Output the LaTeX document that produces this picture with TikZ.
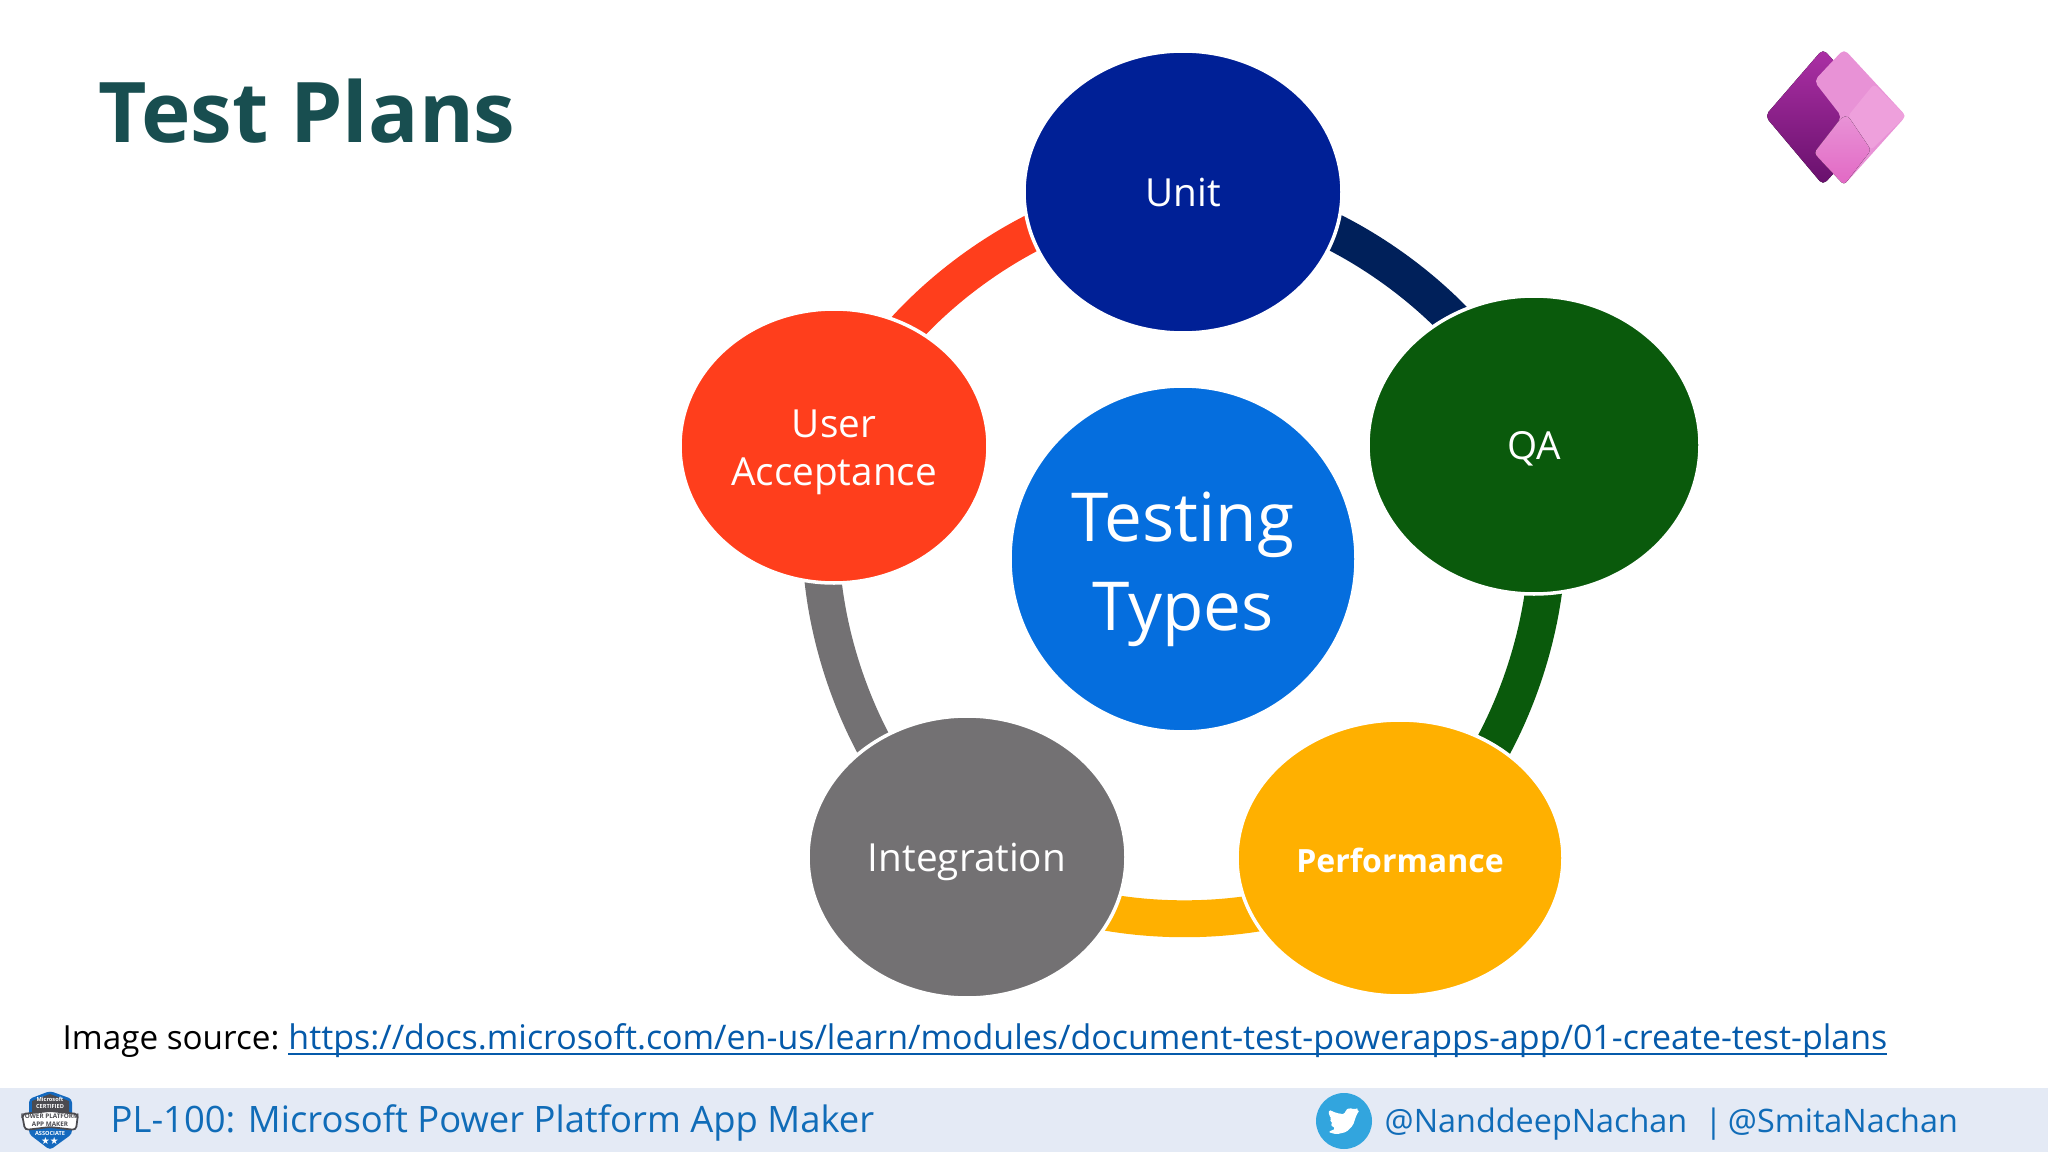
\documentclass[tikz,border=0pt]{standalone}
\usepackage{fontspec}
\setmainfont{Open Sans}
\newfontfamily\symfont{DejaVu Sans}
\usepackage{xcolor}
\usepackage{tikz}
\usetikzlibrary{shapes.geometric, positioning, calc, backgrounds}
\definecolor{titleteal}{RGB}{24,78,80}
\definecolor{footband}{RGB}{228,234,245}
\definecolor{footblue}{RGB}{16,108,184}
\definecolor{linkblue}{RGB}{5,90,170}
\definecolor{unitblue}{RGB}{0,32,150}
\definecolor{unitnavy}{RGB}{0,32,90}
\definecolor{qagreen}{RGB}{10,90,12}
\definecolor{perfamber}{RGB}{255,176,0}
\definecolor{integgrey}{RGB}{115,113,115}
\definecolor{useracc}{RGB}{255,62,28}
\definecolor{testblue}{RGB}{5,110,222}
\definecolor{twitblue}{RGB}{50,165,222}
\definecolor{shieldblue}{RGB}{20,105,190}
\definecolor{shieldgrey}{RGB}{75,75,80}
\definecolor{logotop}{RGB}{172,48,165}
\definecolor{logolow}{RGB}{104,16,108}
\definecolor{logolite}{RGB}{232,146,214}
\definecolor{logomid}{RGB}{238,160,220}
\definecolor{logopink}{RGB}{226,104,196}
\tikzset{
  phase/.style={draw=white,line width=1pt,ellipse,inner sep=0pt,text=white,align=center},
  ring/.style={line width=10.5pt,bend left=36,looseness=0.82},
  foot/.style={inner sep=0pt,anchor=base west,text=footblue,font=\fontsize{10.35}{13}\selectfont},
  handle/.style={foot,font=\fontsize{9.2}{12}\selectfont},
  badgetxt/.style={inner sep=0pt,align=center}
}
\begin{document}
\begin{tikzpicture}[x=0.01cm,y=-0.01cm]
\useasboundingbox (0,0) rectangle (2048,1152);

% Footer band
\fill[footband] (0,1088) rectangle (2048,1152);

% Title
\node[inner sep=0pt,anchor=base west,text=titleteal,font=\fontsize{23.8}{30}\selectfont\bfseries] (title) at (98,143) {Test Plans};

% Phases
\node[phase,fill=testblue,minimum width=346*0.01cm,minimum height=346*0.01cm,font=\fontsize{19.2}{25.5}\selectfont] (testing) at (1183,559) {\rule{0pt}{20pt}Testing\\Types};
\node[phase,fill=unitblue,minimum width=318*0.01cm,minimum height=282*0.01cm,font=\fontsize{11}{14}\selectfont] (unit) at (1183,192) {Unit};
\node[phase,fill=qagreen,minimum width=332*0.01cm,minimum height=298*0.01cm,text depth=0pt,font=\fontsize{11}{14}\selectfont] (qa) at (1534,445) {QA};
\node[phase,fill=perfamber,minimum width=326*0.01cm,minimum height=276*0.01cm,font=\fontsize{9.1}{14}\selectfont\bfseries] (perf) at (1400,858) {\rule{0pt}{8.5pt}Performance};
\node[phase,fill=integgrey,minimum width=318*0.01cm,minimum height=282*0.01cm,text depth=0pt,font=\fontsize{11}{14}\selectfont] (integ) at (967,857) {Integration};
\node[phase,fill=useracc,minimum width=308*0.01cm,minimum height=274*0.01cm,font=\fontsize{11}{13.5}\selectfont] (user) at (834,446) {\rule{0pt}{11.5pt}User\\Acceptance};

% Ring pieces
\begin{scope}[on background layer]
\draw[ring,draw=unitnavy] (unit.center) to (qa.center);
\draw[ring,draw=qagreen] (qa.center) to (perf.center);
\draw[ring,draw=perfamber] (perf.center) to (integ.center);
\draw[ring,draw=integgrey] (integ.center) to (user.center);
\draw[ring,draw=useracc] (user.center) to (unit.center);
\end{scope}

% Source line
\node[inner sep=0pt,anchor=base west,font=\fontsize{9.65}{12}\selectfont] (source) at (62,1049) {{\fontsize{9.45}{12}\selectfont Image source:} \hspace*{-0.75pt}\textcolor{linkblue}{\underline{\smash{https://docs.microsoft.com/en-us/learn/modules/document-test-powerapps-app/01-create-test-plans}}}};

% Footer texts
\node[foot] (course) at (110,1132) {PL-100: Microsoft Power Platform App Maker};
\node[handle] (handle1) at (1384,1132) {@NanddeepNachan};
\node[handle] (handle2) at (1704,1132) {|\,@SmitaNachan};

% Twitter
\node[circle,fill=twitblue,minimum width=56*0.01cm,inner sep=0pt] (twitter) at (1344,1121) {};
\fill[white,rounded corners=0.5pt,shift={(1344,1121)},scale=0.3333] (47,-34) -- (37,-29) -- (44,-40) -- (30,-34) -- (17,-40) -- (4,-32) -- (2,-20) -- (-23,-24) -- (-46,-34) -- (-45,-17) -- (-36,-5) -- (-44,-6) -- (-33,10) -- (-42,11) -- (-25,23) -- (-48,33) -- (-23,40) -- (7,33) -- (27,13) -- (37,-17) -- cycle;

% Badge
\fill[shieldblue,rounded corners=1pt] (50,1091) -- (72,1099) -- (72,1134) -- (50,1150) -- (29,1134) -- (29,1099) -- cycle;
\fill[shieldgrey] (50,1094) -- (69,1101) -- (69,1114) -- (32,1114) -- (32,1101) -- cycle;
\draw[shieldgrey,fill=white,line width=0.5pt,rounded corners=1pt] (22,1114) -- (50,1111) -- (78,1114) -- (76,1130) -- (50,1127) -- (25,1130) -- cycle;
\node[badgetxt,text=white,font=\fontsize{1.6}{2}\selectfont\bfseries] (badgetop) at (50,1103) {Microsoft\\CERTIFIED};
\node[badgetxt,text=shieldgrey,font=\fontsize{1.8}{2.3}\selectfont\bfseries] (badgemid) at (50,1120) {POWER PLATFORM\\APP MAKER};
\node[badgetxt,text=white,font=\fontsize{1.6}{2}\selectfont\bfseries] (badgelow) at (50,1133) {ASSOCIATE};
\node[badgetxt,text=white,font=\fontsize{2.8}{3}\selectfont\symfont] (badgestars) at (50,1141) {★★};

% Logo
\fill[rounded corners=1.5pt,top color=logotop,bottom color=logolow] (1765,116) -- (1823,49) -- (1885,117) -- (1823,185) -- cycle;
\fill[rounded corners=1.5pt,logolite] (1844,49) -- (1906,116) -- (1844,185) -- (1814,153) -- (1842,117) -- (1814,81) -- cycle;
\fill[rounded corners=1pt,logomid] (1874,84) -- (1906,116) -- (1871,150) -- (1848,116) -- cycle;
\fill[rounded corners=1pt,top color=logolite,bottom color=logopink] (1814,153) -- (1842,117) -- (1848,116) -- (1871,150) -- (1844,185) -- cycle;
\end{tikzpicture}
\end{document}
